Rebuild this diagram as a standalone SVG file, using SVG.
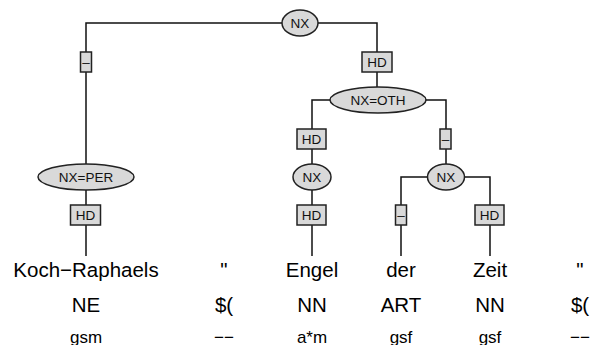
<svg xmlns="http://www.w3.org/2000/svg" width="591" height="345" viewBox="0 0 591 345">
<style>
.e{fill:#d9d9d9;stroke:#222;stroke-width:1.5}
.b{fill:#d9d9d9;stroke:#222;stroke-width:1.5}
.l{font-family:"Liberation Sans",Arial,sans-serif;font-size:13.5px;fill:#111;text-anchor:middle}
.c{fill:none;stroke:#111;stroke-width:1.5}
.w{font-family:"Liberation Sans",Arial,sans-serif;font-size:20.5px;fill:#000;text-anchor:middle}
.m{font-family:"Liberation Sans",Arial,sans-serif;font-size:17px;fill:#000;text-anchor:middle}
</style>
<rect width="591" height="345" fill="#fff"/>
<g id="connectors">
<polyline class="c" points="282,23 86,23 86,164"/>
<polyline class="c" points="318,23 377,23 377,87"/>
<polyline class="c" points="330,100 312,100 312,164"/>
<polyline class="c" points="425,100 446,100 446,164"/>
<line class="c" x1="86" y1="190" x2="86" y2="256"/>
<line class="c" x1="312" y1="190" x2="312" y2="256"/>
<polyline class="c" points="428,177 401,177 401,256"/>
<polyline class="c" points="464,177 490,177 490,256"/>
</g>
<g id="e1"><rect class="b" x="80.5" y="52" width="11" height="20"/><text class="l" x="86" y="66.5">–</text></g>
<g id="e2"><rect class="b" x="362" y="52" width="30" height="20"/><text class="l" x="377" y="67">HD</text></g>
<g id="e3"><rect class="b" x="297" y="129" width="29" height="20"/><text class="l" x="311.5" y="144">HD</text></g>
<g id="e4"><rect class="b" x="440" y="129" width="11" height="20"/><text class="l" x="445.5" y="143.5">–</text></g>
<g id="e5"><rect class="b" x="70.5" y="205" width="30" height="20"/><text class="l" x="85.5" y="220">HD</text></g>
<g id="e6"><rect class="b" x="297" y="205" width="29" height="20"/><text class="l" x="311.5" y="220">HD</text></g>
<g id="e7"><rect class="b" x="395.5" y="205" width="11" height="20"/><text class="l" x="401" y="219.5">–</text></g>
<g id="e8"><rect class="b" x="475" y="205" width="29" height="20"/><text class="l" x="489.5" y="220">HD</text></g>
<g id="n_root"><ellipse class="e" cx="300" cy="23" rx="18" ry="13"/><text class="l" x="300" y="28">NX</text></g>
<g id="n_oth"><ellipse class="e" cx="378" cy="100" rx="48" ry="13"/><text class="l" x="378" y="105">NX=OTH</text></g>
<g id="n_per"><ellipse class="e" cx="86" cy="177" rx="48" ry="13"/><text class="l" x="86" y="182">NX=PER</text></g>
<g id="n_nx1"><ellipse class="e" cx="312" cy="177" rx="19" ry="13"/><text class="l" x="312" y="182">NX</text></g>
<g id="n_nx2"><ellipse class="e" cx="446" cy="177" rx="18.5" ry="13"/><text class="l" x="446" y="182">NX</text></g>
<g id="tokens">
<text class="w" x="86" y="277">Koch−Raphaels</text>
<text class="w" x="224" y="277">"</text>
<text class="w" x="312" y="277">Engel</text>
<text class="w" x="401" y="277">der</text>
<text class="w" x="490" y="277">Zeit</text>
<text class="w" x="580" y="277">"</text>
<text class="w" x="86" y="312">NE</text>
<text class="w" x="224" y="312">$(</text>
<text class="w" x="312" y="312">NN</text>
<text class="w" x="401" y="312">ART</text>
<text class="w" x="490" y="312">NN</text>
<text class="w" x="580" y="312">$(</text>
<text class="m" x="86" y="343">gsm</text>
<text class="m" x="224" y="343">−−</text>
<text class="m" x="312" y="343">a*m</text>
<text class="m" x="401" y="343">gsf</text>
<text class="m" x="490" y="343">gsf</text>
<text class="m" x="580" y="343">−−</text>
</g>
</svg>
